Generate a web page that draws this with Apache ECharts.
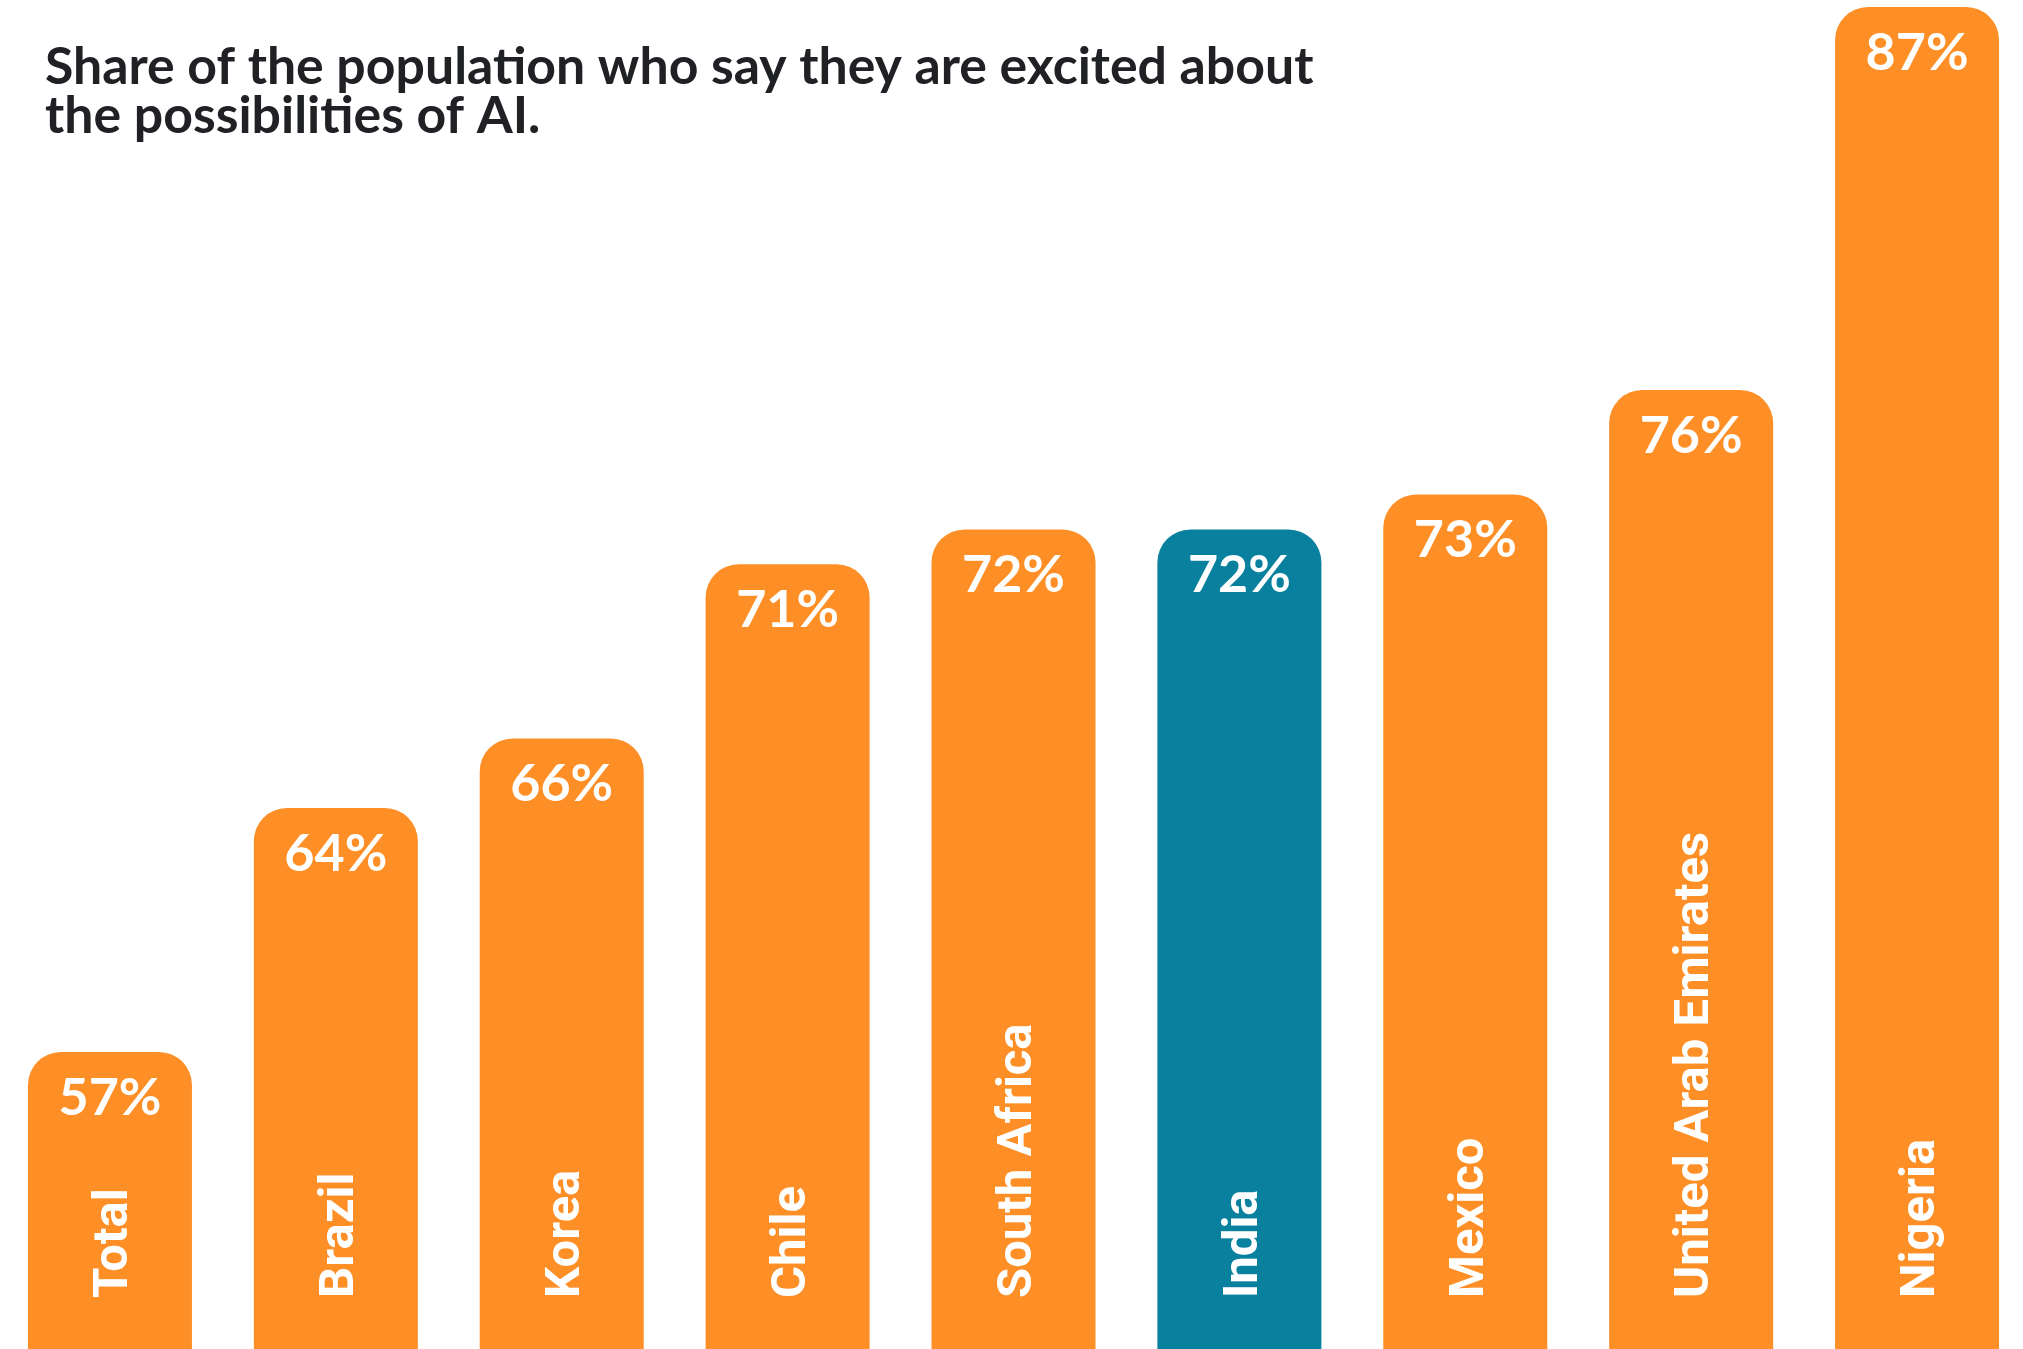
<!DOCTYPE html>
<html>
<head>
<meta charset="utf-8">
<script src="https://cdn.jsdelivr.net/npm/echarts@6/dist/echarts.min.js"></script>
<style>
  html, body { margin: 0; padding: 0; background: #fff; overflow: hidden; }
  /* a bit wider than the window so the outer bars sit where the original has them */
  #canvas { position: absolute; left: -3px; top: 0; width: 2033px; height: 1349px; }
</style>
</head>
<body>
<div id="canvas"></div>
<script>
var categories = ['Total', 'Brazil', 'Korea', 'Chile', 'South Africa', 'India', 'Mexico', 'United Arab Emirates', 'Nigeria'];
var values = [57, 64, 66, 71, 72, 72, 73, 76, 87];
var highlighted = 'India';

var orange = '#FE8F27';
var teal = '#09809E';

var myChart = echarts.init(document.getElementById('canvas'));

var barData = values.map(function (v, i) {
    return {
        value: v,
        itemStyle: { color: categories[i] === highlighted ? teal : orange }
    };
});

option = {
    animation: false,
    title: {
        text: 'Share of the population who say they are excited about\nthe possibilities of AI.',
        left: 43,
        top: 38,
        textStyle: {
            fontFamily: 'Lato',
            fontSize: 51.8,
            fontWeight: 'bold',
            lineHeight: 49,
            color: '#202124'
        }
    },
    grid: {
        left: 0,
        right: 0,
        top: 0,
        bottom: 0
    },
    xAxis: {
        type: 'category',
        data: categories,
        show: false
    },
    yAxis: {
        type: 'value',
        min: 48.47,
        max: 87.2,
        show: false
    },
    series: [{
        type: 'bar',
        data: barData,
        barWidth: 164,
        itemStyle: {
            borderRadius: [33, 33, 0, 0]
        },
        label: {
            show: true,
            position: 'insideTop',
            distance: 20,
            formatter: '{c}%',
            color: '#fff',
            fontFamily: 'Lato',
            fontWeight: 'bold',
            fontSize: 52
        }
    }, {
        // transparent copy, only carries the country names
        type: 'bar',
        data: values,
        barWidth: 164,
        barGap: '-100%',
        silent: true,
        itemStyle: { color: 'rgba(0,0,0,0)' },
        label: {
            show: true,
            position: 'insideBottom',
            distance: 51,
            rotate: 90,
            align: 'left',
            verticalAlign: 'middle',
            offset: [0, 5], // label's own frame: pushes the rotated text right
            formatter: '{b}',
            color: '#fff',
            fontFamily: 'Roboto',
            fontWeight: 'bold',
            fontSize: 49
        }
    }]
};
myChart.setOption(option);
</script>
</body>
</html>
